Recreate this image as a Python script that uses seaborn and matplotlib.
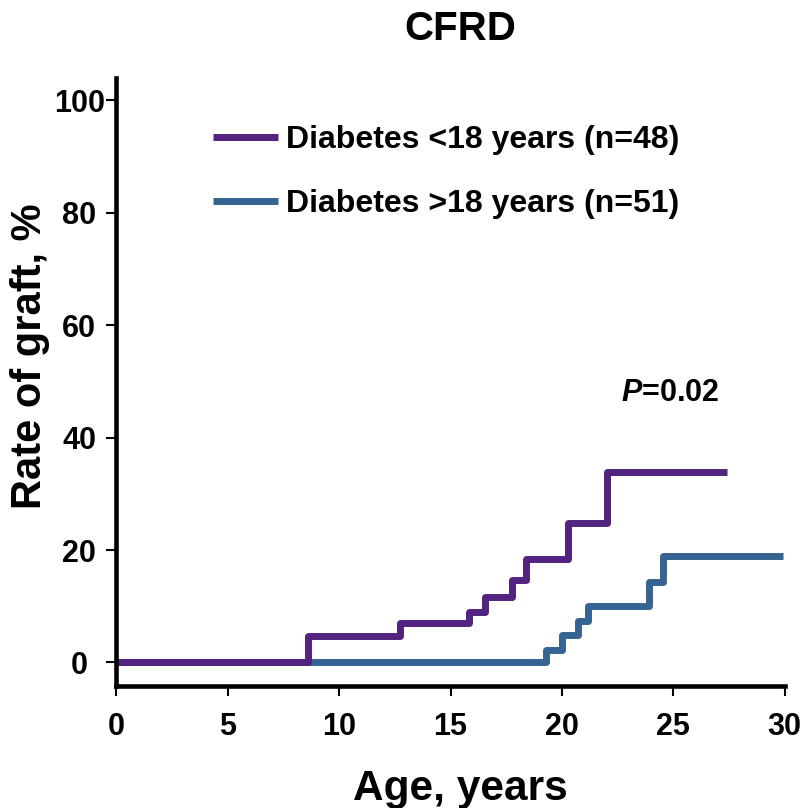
import matplotlib
matplotlib.use("Agg")
import matplotlib.pyplot as plt
import seaborn as sns
import pandas as pd
from matplotlib.lines import Line2D

# ---- data ----
age_lt18 = [0, 8.59, 12.73, 15.81, 16.55, 17.74, 18.37, 20.26, 22.04, 27.40]
rate_lt18 = [0, 4.8, 7.0, 9.0, 11.7, 14.7, 18.4, 24.8, 33.9, 33.9]
age_gt18 = [0, 19.30, 19.99, 20.71, 21.19, 23.91, 24.52, 29.91]
rate_gt18 = [0, 2.2, 4.9, 7.3, 10.1, 14.3, 19.0, 19.0]
labels = ["Diabetes <18 years (n=48)", "Diabetes >18 years (n=51)"]
colors = ["#52237F", "#356392"]
x_ticks = [0, 5, 10, 15, 20, 25, 30]
y_ticks = [0, 20, 40, 60, 80, 100]
p_text = "$\\mathit{P}$=0.02"

df = pd.concat([
    pd.DataFrame({"Age": age_lt18, "Rate": rate_lt18, "Group": labels[0]}),
    pd.DataFrame({"Age": age_gt18, "Rate": rate_gt18, "Group": labels[1]}),
], ignore_index=True)

sns.set_style("ticks")
plt.rcParams["font.family"] = ["Liberation Sans", "DejaVu Sans"]
plt.rcParams["font.weight"] = "bold"
plt.rcParams["text.color"] = "black"
plt.rcParams["axes.labelcolor"] = "black"
plt.rcParams["xtick.color"] = "black"
plt.rcParams["ytick.color"] = "black"
plt.rcParams["mathtext.fontset"] = "custom"
plt.rcParams["mathtext.it"] = "Liberation Sans:italic:bold"
plt.rcParams["mathtext.rm"] = "Liberation Sans:bold"

fig = plt.figure(figsize=(8.09, 8.08), dpi=100)
ax = fig.add_axes([0.144, 0.151, 0.8258, 0.7525])

# blue first so purple lies on top along the zero line
for lab, col in [(labels[1], colors[1]), (labels[0], colors[0])]:
    sns.lineplot(data=df[df["Group"] == lab], x="Age", y="Rate", color=col,
                 estimator=None, sort=False, drawstyle="steps-post",
                 linewidth=5, solid_capstyle="butt", solid_joinstyle="round",
                 ax=ax, legend=False)

ax.set_xlim(0, 30)
ax.set_ylim(-4.18, 104)
ax.set_xticks(x_ticks)
ax.set_yticks(y_ticks)
ax.tick_params(axis="both", direction="out", length=7.5, width=1.5, color="black",
               labelsize=22, labelcolor="black")
ax.tick_params(axis="x", pad=11)
ax.tick_params(axis="y", pad=19.4)

for side in ["top", "right"]:
    ax.spines[side].set_visible(False)
for side in ["left", "bottom"]:
    ax.spines[side].set_linewidth(3.3)
    ax.spines[side].set_color("black")

ax.set_xlabel("Age, years", fontsize=30.5, fontweight="bold")
ax.set_ylabel("Rate of graft, %", fontsize=30, fontweight="bold")
ax.xaxis.label.set_va("center")
ax.yaxis.label.set_va("center")
ax.xaxis.set_label_coords(0.514, -0.170)
ax.yaxis.set_label_coords(-0.13, 0.543)

ax.set_title("CFRD", fontsize=29, fontweight="bold", x=0.514, y=1.08, va="center", pad=0)

handles = [Line2D([], [], color=colors[0], linewidth=5, solid_capstyle="butt"),
           Line2D([], [], color=colors[1], linewidth=5, solid_capstyle="butt")]
leg = ax.legend(handles, labels, loc="upper left", frameon=False,
                bbox_to_anchor=(213 / 809, 1 - 125 / 808), bbox_transform=fig.transFigure,
                borderpad=0, borderaxespad=0, handlelength=2.05, handletextpad=0.25,
                labelspacing=1.07, prop={"size": 23, "weight": "bold"})

ax.text(22.65, 48.0, p_text, fontsize=22, fontweight="bold", va="center", ha="left")

fig.canvas.draw()
for tick in ax.yaxis.get_major_ticks():
    tick.label1.set_horizontalalignment("center")
    tick.label1.set_fontweight("bold")
for tick in ax.xaxis.get_major_ticks():
    tick.label1.set_fontweight("bold")

fig.savefig("out.png", dpi=100)
